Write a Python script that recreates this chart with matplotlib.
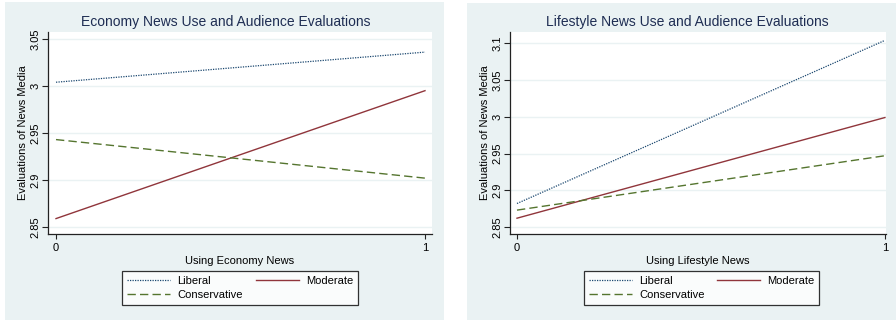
import matplotlib
matplotlib.use("Agg")
import matplotlib.pyplot as plt
from matplotlib.patches import Rectangle

plt.rcParams['font.family'] = ['Liberation Sans', 'DejaVu Sans']

# data
x_vals = [0, 1]
groups = ["Liberal", "Moderate", "Conservative"]
econ_liberal = [3.004, 3.036]
econ_moderate = [2.859, 2.995]
econ_conservative = [2.943, 2.902]
life_liberal = [2.882, 3.104]
life_moderate = [2.862, 2.999]
life_conservative = [2.873, 2.947]
econ_yticks = [2.85, 2.9, 2.95, 3, 3.05]
econ_yticklabels = ["2.85", "2.9", "2.95", "3", "3.05"]
life_yticks = [2.85, 2.9, 2.95, 3, 3.05, 3.1]
life_yticklabels = ["2.85", "2.9", "2.95", "3", "3.05", "3.1"]

bg = '#eaf2f3'
navy = '#1a476f'
maroon = '#90353b'
green = '#55752f'
title_col = '#1e2d53'

W, H = 896, 322
fig = plt.figure(figsize=(W / 100, H / 100), dpi=100)
fig.patch.set_facecolor('white')

# panel backgrounds (pixel boxes)
for (x0, y0, x1, y1) in [(5, 2, 444, 320), (467, 3, 896, 320)]:
    fig.patches.append(Rectangle((x0 / W, 1 - y1 / H), (x1 - x0) / W, (y1 - y0) / H,
                                 transform=fig.transFigure, facecolor=bg,
                                 edgecolor='none', zorder=-10))


def make_panel(px0, px1, title, title_x, xlabel, lib, mod, cons, yticks, ylabels, ylim, xlim, leg_box):
    ax = fig.add_axes([px0 / W, 1 - 234 / H, (px1 - px0) / W, (234 - 32) / H])
    ax.set_facecolor('white')
    l1, = ax.plot(x_vals, lib, color=navy, lw=0.9, linestyle=(0, (1, 1)))
    l2, = ax.plot(x_vals, mod, color=maroon, lw=1.0, linestyle='-')
    l3, = ax.plot(x_vals, cons, color=green, lw=1.0, linestyle=(0, (6, 3)))
    ax.set_ylim(*ylim)
    ax.set_xlim(*xlim)
    ax.set_yticks(yticks)
    ax.set_yticklabels(ylabels, rotation=90, va='center')
    ax.set_xticks([0, 1])
    ax.set_xticklabels(['0', '1'])
    ax.grid(axis='y', color=bg, lw=1.0)
    ax.set_axisbelow(True)
    for s in ['top', 'right']:
        ax.spines[s].set_visible(False)
    for s in ['left', 'bottom']:
        ax.spines[s].set_color('#222222')
        ax.spines[s].set_linewidth(0.9)
    ax.tick_params(axis='y', labelsize=8, length=4, width=0.8, color='#222222', pad=1.5)
    ax.tick_params(axis='x', labelsize=8, length=3.5, width=0.8, color='#222222', pad=3)
    fig.text(title_x / W, 1 - 22 / H, title, fontsize=10, color=title_col,
             ha='center', va='center')
    ax.set_xlabel(xlabel, fontsize=8, labelpad=2)
    ax.set_ylabel('Evaluations of News Media', fontsize=8, labelpad=2)
    x0, y0, x1, y1 = leg_box
    leg = fig.legend([l1, l3, l2], [groups[0], groups[2], groups[1]], ncol=2,
                     loc='center', bbox_to_anchor=(x0 / W, 1 - y1 / H, (x1 - x0) / W, (y1 - y0) / H),
                     mode='expand', fontsize=8, frameon=True, fancybox=False,
                     handlelength=3.9, handletextpad=0.6, columnspacing=2.0,
                     borderpad=0.45, labelspacing=0.35, borderaxespad=0)
    leg.get_frame().set_edgecolor('black')
    leg.get_frame().set_linewidth(0.9)
    return ax


make_panel(48, 432, 'Economy News Use and Audience Evaluations', 226, 'Using Economy News',
           econ_liberal, econ_moderate, econ_conservative, econ_yticks, econ_yticklabels,
           (2.8426, 3.0574), (-0.0217, 1.019), (122, 270, 358, 306))
make_panel(510, 886, 'Lifestyle News Use and Audience Evaluations', 687, 'Using Lifestyle News',
           life_liberal, life_moderate, life_conservative, life_yticks, life_yticklabels,
           (2.8405, 3.1154), (-0.019, 1.003), (584, 270, 819, 306))

fig.savefig('out.png', dpi=100)
